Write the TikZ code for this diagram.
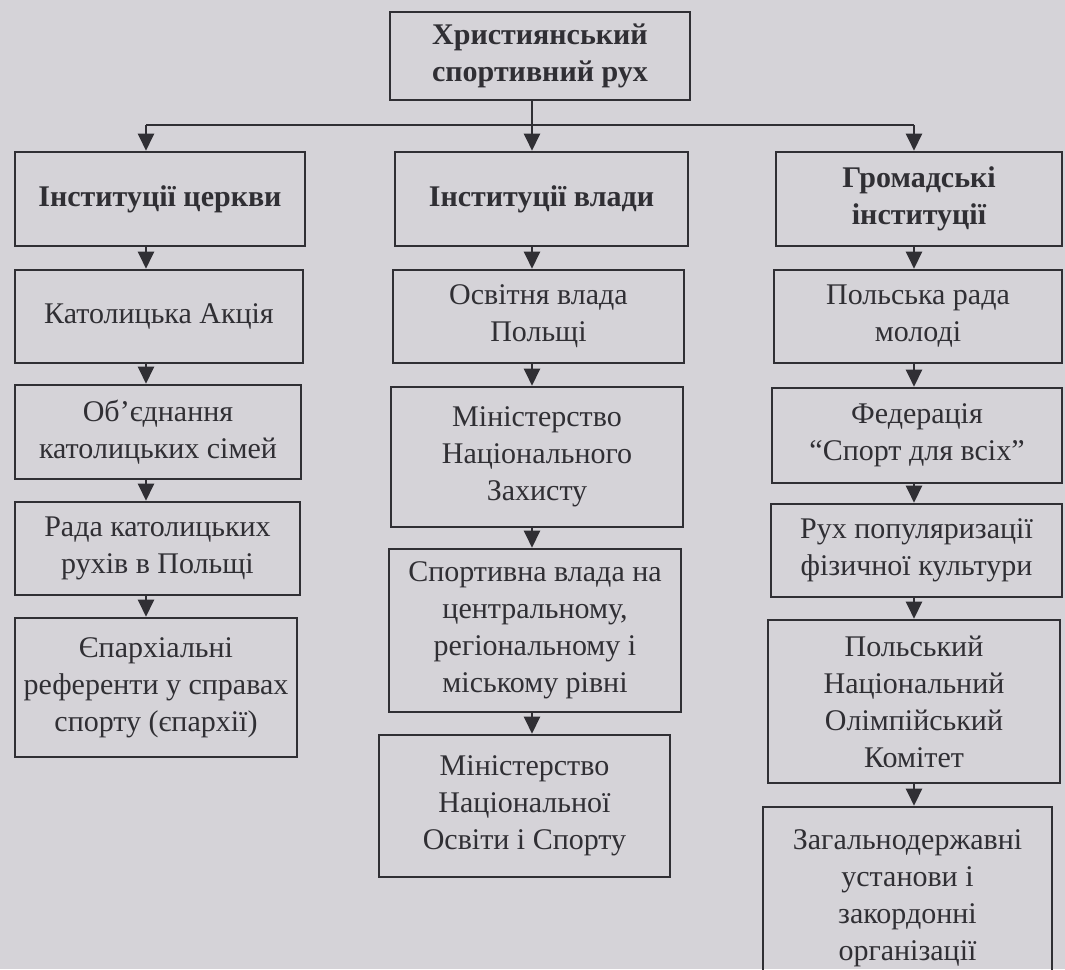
\documentclass[tikz,border=0pt]{standalone}
\usepackage{fontspec}
\setmainfont{Liberation Serif}
\usetikzlibrary{arrows.meta}
\definecolor{paper}{RGB}{213,211,216}
\definecolor{ink}{RGB}{48,47,52}
\tikzset{
  box/.style={draw=ink, line width=2.6pt, text=ink, align=center, inner sep=2pt,
              font=\fontsize{30}{37}\selectfont},
  bbox/.style={box, font=\fontsize{30}{37}\selectfont\bfseries},
  arr/.style={draw=ink, line width=2.4pt, -{Triangle[width=16pt,length=17pt]}},
  ln/.style={draw=ink, line width=2.4pt}
}
\begin{document}
\begin{tikzpicture}[x=1pt,y=-1pt]
\fill[paper] (0,0) rectangle (1065,969);
\useasboundingbox (0,0) rectangle (1065,969);

\node[bbox, minimum width=300pt, minimum height=88pt] (top) at (540,56) {Християнський\\спортивний рух};

\node[bbox, minimum width=290pt, minimum height=94pt] (L1) at (160,199) {Інституції церкви};
\node[bbox, minimum width=293pt, minimum height=94pt] (M1) at (541.5,199) {Інституції влади};
\node[bbox, minimum width=286pt, minimum height=94pt] (R1) at (919,199) {Громадські\\інституції};

\node[box, minimum width=288pt, minimum height=93pt] (L2) at (159,316.5) {Католицька Акція};
\node[box, minimum width=291pt, minimum height=93pt] (M2) at (538.5,316.5) {Освітня влада\\Польщі};
\node[box, minimum width=288pt, minimum height=93pt] (R2) at (918,316.5) {Польська рада\\молоді};

\node[box, minimum width=286pt, minimum height=94pt] (L3) at (158,432) {Об’єднання\\католицьких сімей};
\node[box, minimum width=292pt, minimum height=140pt] (M3) at (537,457) {Міністерство\\Національного\\Захисту};
\node[box, minimum width=290pt, minimum height=95pt] (R3) at (917,435.5) {Федерація\\“Спорт для всіх”};

\node[box, minimum width=285pt, minimum height=93pt] (L4) at (157.5,548.5) {Рада католицьких\\рухів в Польщі};
\node[box, minimum width=292pt, minimum height=163pt] (M4) at (535,630.5) {Спортивна влада на\\центральному,\\регіональному і\\міському рівні};
\node[box, minimum width=291pt, minimum height=93pt] (R4) at (916.5,550.5) {Рух популяризації\\фізичної культури};

\node[box, minimum width=282pt, minimum height=139pt] (L5) at (156,687.5) {Єпархіальні\\референти у справах\\спорту (єпархії)};
\node[box, minimum width=291pt, minimum height=142pt] (M5) at (524.5,806) {Міністерство\\Національної\\Освіти і Спорту};
\node[box, minimum width=292pt, minimum height=163pt] (R5) at (914,701.5) {Польський\\Національний\\Олімпійський\\Комітет};

\node[box, minimum width=289pt, minimum height=183pt] (R6) at (907.5,898.5) {Загальнодержавні\\установи і\\закордонні\\організації};

% columns and bus
\coordinate (cL) at (146,0);
\coordinate (cM) at (532,0);
\coordinate (cR) at (914,0);
\coordinate (bus) at (0,125);

\draw[ln] (top.south -| cM) -- (bus -| cM);
\draw[ln] (bus -| cL) -- (bus -| cR);
\draw[arr] (bus -| cL) -- (L1.north -| cL);
\draw[arr] (bus -| cM) -- (M1.north -| cM);
\draw[arr] (bus -| cR) -- (R1.north -| cR);

\draw[arr] (L1.south -| cL) -- (L2.north -| cL);
\draw[arr] (L2.south -| cL) -- (L3.north -| cL);
\draw[arr] (L3.south -| cL) -- (L4.north -| cL);
\draw[arr] (L4.south -| cL) -- (L5.north -| cL);

\draw[arr] (M1.south -| cM) -- (M2.north -| cM);
\draw[arr] (M2.south -| cM) -- (M3.north -| cM);
\draw[arr] (M3.south -| cM) -- (M4.north -| cM);
\draw[arr] (M4.south -| cM) -- (M5.north -| cM);

\draw[arr] (R1.south -| cR) -- (R2.north -| cR);
\draw[arr] (R2.south -| cR) -- (R3.north -| cR);
\draw[arr] (R3.south -| cR) -- (R4.north -| cR);
\draw[arr] (R4.south -| cR) -- (R5.north -| cR);
\draw[arr] (R5.south -| cR) -- (R6.north -| cR);
\end{tikzpicture}
\end{document}
